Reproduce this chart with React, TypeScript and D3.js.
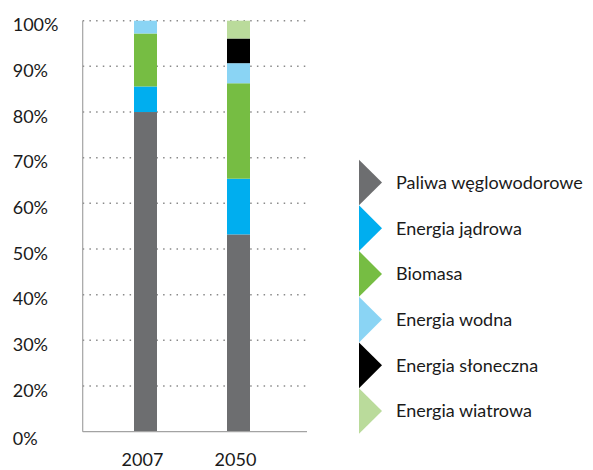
import React from "react";
import * as d3 from "d3";

const years = ["2007", "2050"];
const seriesNames = [
  "Paliwa węglowodorowe",
  "Energia jądrowa",
  "Biomasa",
  "Energia wodna",
  "Energia słoneczna",
  "Energia wiatrowa",
];
const paliwa = [80, 53.2];
const jadrowa = [5.6, 12.2];
const biomasa = [11.6, 20.9];
const wodna = [2.8, 4.4];
const sloneczna = [0, 5.4];
const wiatrowa = [0, 3.9];
const colors = ["#6d6e70", "#00aeef", "#76bd43", "#8ad4f4", "#000000", "#badb9b"];
const tickValues = [10, 20, 30, 40, 50, 60, 70, 80, 90, 100];
const tickLabels = ["0%", "20%", "30%", "40%", "50%", "60%", "70%", "80%", "90%", "100%"];

const W = 593;
const H = 470;
const FONT = "Lato, 'Open Sans', sans-serif";

export default function App() {
  const seriesValues = [paliwa, jadrowa, biomasa, wodna, sloneczna, wiatrowa];
  const table = years.map((yr, i) => {
    const row: any = { year: yr };
    seriesNames.forEach((n, k) => (row[n] = seriesValues[k][i]));
    return row;
  });
  const stacked = d3.stack<any>().keys(seriesNames)(table);

  const y = d3.scaleLinear().domain([10, 100]).range([431.7, 20.7]).clamp(true);
  const x = d3.scalePoint<string>().domain(years).range([145.5, 238.5]);
  const barW = 23;
  const axisLeft = 82.7;
  const axisRight = 307;

  const legendY = d3.scalePoint<string>().domain(seriesNames).range([182.5, 411]);
  const triH = 45.7;
  const triW = 23;
  const legendX = 359;

  return (
    <svg
      width={W}
      height={H}
      style={{ position: "absolute", left: 0, top: 0, background: "#fff" }}
      fontFamily={FONT}
    >
      {/* gridlines */}
      {tickValues
        .filter((v) => v !== 10)
        .map((v) => (
          <line
            key={"g" + v}
            x1={axisLeft}
            x2={axisRight}
            y1={y(v)}
            y2={y(v)}
            stroke="#8a8a8a"
            strokeWidth={1.5}
            strokeDasharray="1.5 5.2"
          />
        ))}
      {/* bars */}
      {stacked.map((s, k) => (
        <g key={s.key} fill={colors[k]}>
          {s.map((d, i) =>
            d[1] - d[0] > 0 ? (
              <rect
                key={i}
                x={(x(years[i]) as number) - barW / 2}
                width={barW}
                y={y(d[1])}
                height={y(d[0]) - y(d[1])}
              />
            ) : null
          )}
        </g>
      ))}
      {/* axes */}
      <line x1={axisLeft} x2={axisLeft} y1={y(100)} y2={y(10)} stroke="#a3a3a3" strokeWidth={1.2} />
      <line x1={axisLeft} x2={axisRight} y1={y(10)} y2={y(10)} stroke="#a3a3a3" strokeWidth={1.2} />
      {tickValues.map((v, i) => (
        <text
          key={"t" + v}
          x={12.7}
          y={y(v) + (v === 10 ? 13 : 10.5)}
          fontSize={18}
          fill="#1a1a1a"
        >
          {tickLabels[i]}
        </text>
      ))}
      {years.map((yr) => (
        <text
          key={yr}
          x={(x(yr) as number) - 3}
          y={466}
          fontSize={18}
          textAnchor="middle"
          fill="#1a1a1a"
        >
          {yr}
        </text>
      ))}
      {/* legend */}
      {seriesNames.map((n, k) => {
        const cy = legendY(n) as number;
        const path = d3.path();
        path.moveTo(legendX, cy - triH / 2);
        path.lineTo(legendX + triW, cy);
        path.lineTo(legendX, cy + triH / 2);
        path.closePath();
        return (
          <g key={n}>
            <path d={path.toString()} fill={colors[k]} />
            <text x={396} y={cy} dy="0.35em" fontSize={18} fill="#1a1a1a">
              {n}
            </text>
          </g>
        );
      })}
    </svg>
  );
}
